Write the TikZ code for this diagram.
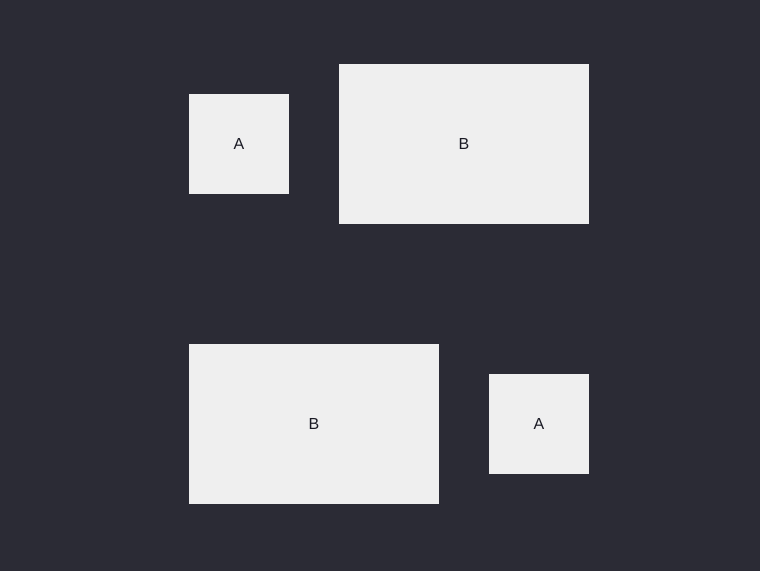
\documentclass[tikz,border=0pt]{standalone}
\usepackage{fontspec}
\setmainfont{Liberation Sans}
\definecolor{bg}{HTML}{2B2B35}
\definecolor{boxfill}{HTML}{EFEFEF}
\definecolor{txt}{HTML}{1A1A24}
\begin{document}
\begin{tikzpicture}[x=1pt,y=-1pt,
  blk/.style={fill=boxfill,draw=none,inner sep=0pt,outer sep=0pt,text=txt,font=\fontsize{16}{19}\selectfont},
  sq/.style={blk,minimum width=100pt,minimum height=100pt},
  wide/.style={blk,minimum width=250pt,minimum height=160pt}]
\fill[bg] (0,0) rectangle (760,571);
\useasboundingbox (0,0) rectangle (760,571);
\node[sq] (a1) at (239,144) {A};
\node[wide] (b1) at (464,144) {B};
\node[wide] (b2) at (314,424) {B};
\node[sq] (a2) at (539,424) {A};
\end{tikzpicture}
\end{document}
